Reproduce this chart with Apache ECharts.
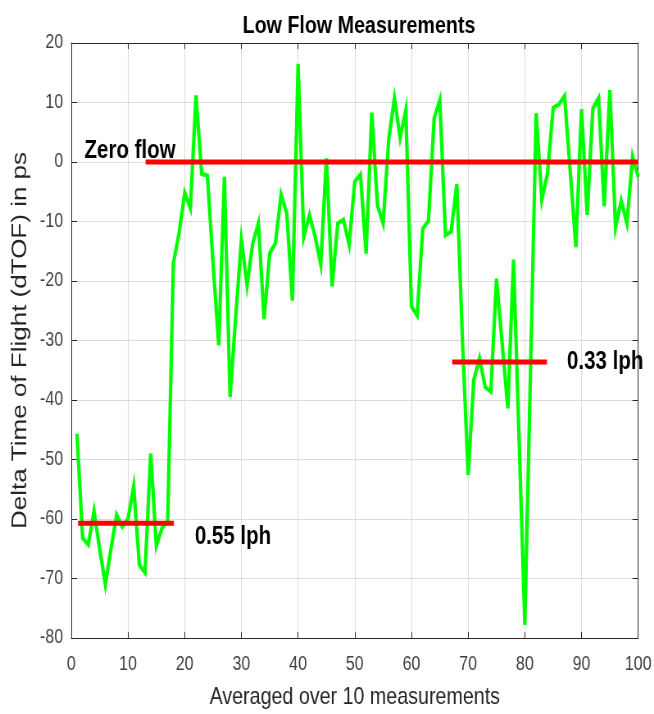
<!DOCTYPE html>
<html><head><meta charset="utf-8">
<script src="https://cdn.jsdelivr.net/npm/echarts@6/dist/echarts.min.js"></script>
<style>
html,body{margin:0;padding:0;background:#fff;overflow:hidden;width:654px;height:714px;}
#wrap{width:654px;height:714px;overflow:hidden;position:relative;background:#fff;}
#chart{width:798px;height:714px;transform:scaleX(0.819549);transform-origin:0 0;position:absolute;left:0;top:0;}
</style></head><body><div id="wrap"><div id="chart"></div></div>
<script>
// Measurement index (x) and averaged dTOF values in ps (y)
const measurementIndex = [];
for (let i = 1; i <= 100; i++) measurementIndex.push(i);
const dtofValues = [
  -45.7, -63.2, -64.3, -58.7, -65.0, -71.0, -65.0, -59.3, -61.3, -60.0,
  -54.5, -67.7, -69.0, -49.0, -64.5, -61.5, -60.4, -17.0, -12.0, -5.2,
  -7.8, 11.2, -2.0, -2.3, -17.0, -30.8, -2.5, -39.5, -26.0, -13.1,
  -20.7, -13.7, -10.3, -26.4, -15.3, -13.7, -5.5, -8.6, -23.3, 16.5,
  -12.6, -8.9, -12.5, -17.2, 0.6, -20.9, -10.3, -9.7, -13.9, -3.3,
  -2.1, -15.4, 8.3, -7.3, -10.3, 3.9, 10.7, 4.1, 8.7, -24.3,
  -25.8, -11.2, -9.9, 7.3, 10.4, -12.3, -11.7, -3.7, -30.0, -52.6,
  -36.6, -33.0, -37.8, -38.6, -19.6, -30.5, -41.4, -16.4, -47.0, -77.8,
  -35.0, 8.2, -6.3, -1.9, 9.1, 9.7, 11.1, -1.5, -14.3, 8.9,
  -8.9, 9.0, 10.7, -7.4, 12.1, -11.0, -6.5, -10.3, 0.9, -2.5
];
// Reference level lines: [x, y] end points
const zeroFlowLine = [[13.1, 0], [100, 0]];
const lph055Line = [[1.2, -60.7], [18.1, -60.7]];
const lph033Line = [[67.2, -33.6], [83.9, -33.6]];
const levelLabels = ['Zero flow', '0.55 lph', '0.33 lph'];
const titleText = 'Low Flow Measurements';
const xAxisTitle = 'Averaged over 10 measurements';
const yAxisTitle = 'Delta Time of Flight (dTOF) in ps';

const FONT = "'Liberation Sans', Arial, Helvetica, sans-serif";
const chart = echarts.init(document.getElementById('chart'), null, {renderer: 'canvas'});

const greenData = measurementIndex.map((x, i) => [x, dtofValues[i]]);

function levelSeries(pts, labelText, labelAtStart, labelOpts) {
  const data = pts.map((p, idx) => {
    const isLabelPt = labelAtStart ? idx === 0 : idx === pts.length - 1;
    if (!isLabelPt) return {value: p};
    return {
      value: p,
      label: Object.assign({
        show: true,
        formatter: labelText,
        color: '#000',
        fontFamily: FONT,
        fontWeight: 'bold',
        fontSize: 25
      }, labelOpts)
    };
  });
  return {
    type: 'line',
    data: data,
    symbol: 'circle',
    symbolSize: 1,
    showSymbol: true,
    itemStyle: {color: 'rgba(255,0,0,0)'},
    lineStyle: {color: '#ff0000', width: 5, cap: 'butt'},
    label: {show: false},
    emphasis: {disabled: true},
    silent: true,
    z: 5,
    animation: false
  };
}

const axisLineStyle = {color: '#262626', width: 1};
const option = {
  backgroundColor: '#fff',
  animation: false,
  title: {
    text: titleText,
    left: 433,
    textAlign: 'center',
    top: 9,
    textStyle: {fontFamily: FONT, fontWeight: 'bold', fontSize: 24, color: '#000'}
  },
  grid: {left: 87, right: 18, top: 43, bottom: 76, containLabel: false},
  xAxis: [{
    type: 'value', min: 0, max: 100, interval: 10, position: 'bottom',
    axisLine: {show: true, onZero: false, lineStyle: axisLineStyle},
    axisTick: {show: true, inside: true, length: 6, lineStyle: axisLineStyle},
    axisLabel: {color: '#404040', fontFamily: FONT, fontSize: 19.5, margin: 17},
    splitLine: {show: true, lineStyle: {color: '#dcdcdc', width: 1}},
    name: xAxisTitle, nameLocation: 'middle', nameGap: 47,
    nameTextStyle: {fontFamily: FONT, fontSize: 24, color: '#262626'}
  }, {
    type: 'value', min: 0, max: 100, interval: 10, position: 'top',
    axisLine: {show: true, onZero: false, lineStyle: axisLineStyle},
    axisTick: {show: true, inside: true, length: 6, lineStyle: axisLineStyle},
    axisLabel: {show: false}, splitLine: {show: false}
  }],
  yAxis: [{
    type: 'value', min: -80, max: 20, interval: 10, position: 'left',
    axisLine: {show: true, onZero: false, lineStyle: axisLineStyle},
    axisTick: {show: true, inside: true, length: 7, lineStyle: axisLineStyle},
    axisLabel: {color: '#404040', fontFamily: FONT, fontSize: 19.5, margin: 10},
    splitLine: {show: true, lineStyle: {color: '#dcdcdc', width: 1}},
    name: yAxisTitle, nameLocation: 'middle', nameGap: 47,
    nameTextStyle: {fontFamily: FONT, fontSize: 26, color: '#262626'}
  }, {
    type: 'value', min: -80, max: 20, interval: 10, position: 'right',
    axisLine: {show: true, onZero: false, lineStyle: axisLineStyle},
    axisTick: {show: true, inside: true, length: 7, lineStyle: axisLineStyle},
    axisLabel: {show: false}, splitLine: {show: false}
  }],
  series: [
    {
      type: 'line', data: greenData, showSymbol: false, symbol: 'none',
      lineStyle: {color: '#00ff00', width: 4.2, join: 'miter'},
      silent: true, z: 4, animation: false
    },
    levelSeries(zeroFlowLine, levelLabels[0], true, {position: 'top', distance: 0, offset: [-19, 2]}),
    levelSeries(lph055Line, levelLabels[1], false, {position: 'right', distance: 5, offset: [20, 14]}),
    levelSeries(lph033Line, levelLabels[2], false, {position: 'right', distance: 5, offset: [19, 0]})
  ]
};
chart.setOption(option);
</script>
</body></html>
